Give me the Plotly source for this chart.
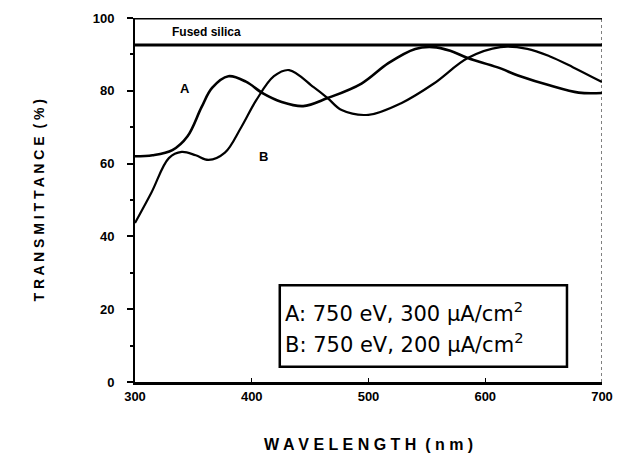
import plotly.graph_objects as go

# Data
a_wl = [300, 315, 332, 345, 357, 366, 380, 395, 410, 425, 444, 465, 494, 517, 540, 555, 570, 585, 610, 630, 655, 680, 700]
a_val = [62, 62.3, 63.7, 67.5, 75.5, 80.8, 84, 82.5, 79.2, 77, 75.8, 78, 82, 87.6, 91.5, 92, 91, 89, 86.5, 84, 81.5, 79.5, 79.4]

b_wl = [300, 314, 329, 340, 352, 363, 377, 391, 404, 419, 432, 453, 465, 477, 500, 528, 556, 585, 613, 636, 655, 675, 700]
b_val = [43.7, 52, 61.5, 63.2, 62.3, 61, 63, 70, 77.5, 84, 85.7, 81, 78, 74.7, 73.4, 76.6, 82, 89, 92, 91.5, 89.5, 86.5, 82.4]

silica_wl = [300, 700]
silica_val = [92.6, 92.6]

x_ticks = [300, 400, 500, 600, 700]
y_ticks = [0, 20, 40, 60, 80, 100]

FONT = "Liberation Sans"
LFONT = "DejaVu Sans"

fig = go.Figure()
fig.add_trace(go.Scatter(x=a_wl, y=a_val, mode="lines", line=dict(color="black", width=2.6, shape="spline", smoothing=1.0), showlegend=False))
fig.add_trace(go.Scatter(x=b_wl, y=b_val, mode="lines", line=dict(color="black", width=2.2, shape="spline", smoothing=1.0), showlegend=False))
fig.add_trace(go.Scatter(x=silica_wl, y=silica_val, mode="lines", line=dict(color="black", width=3), showlegend=False))

# top frame line at 100
fig.add_shape(type="line", x0=300, x1=700, y0=100, y1=100, xref="x", yref="y", line=dict(color="black", width=3))
# right frame line (thin)
fig.add_shape(type="line", x0=700, x1=700, y0=0, y1=100, xref="x", yref="y", line=dict(color="black", width=1, dash="dot"))
# legend box
fig.add_shape(type="rect", x0=424, x1=670, y0=4.2, y1=26.6, xref="x", yref="y", line=dict(color="black", width=2.5), fillcolor="white")

fig.add_annotation(x=427, y=19.3, xref="x", yref="y", text="A: 750 eV, 300 μA/cm<sup>2</sup>", showarrow=False, xanchor="left", yanchor="middle", font=dict(family=LFONT, size=21, color="black"))
fig.add_annotation(x=427, y=10.8, xref="x", yref="y", text="B: 750 eV, 200 μA/cm<sup>2</sup>", showarrow=False, xanchor="left", yanchor="middle", font=dict(family=LFONT, size=21, color="black"))

fig.add_annotation(x=330, y=96.2, xref="x", yref="y", text="<b>Fused silica</b>", showarrow=False, xanchor="left", yanchor="middle", font=dict(family=FONT, size=12, color="black"))
fig.add_annotation(x=343, y=80.5, xref="x", yref="y", text="<b>A</b>", showarrow=False, font=dict(family=FONT, size=13, color="black"))
fig.add_annotation(x=410, y=62, xref="x", yref="y", text="<b>B</b>", showarrow=False, font=dict(family=FONT, size=13, color="black"))

# axis titles (paper coords relative to plot area)
fig.add_annotation(x=-0.226, y=0.5, xref="paper", yref="paper", text="<b>T R A N S M I T T A N C E  ( % )</b>", textangle=-90, showarrow=False, font=dict(family=FONT, size=14, color="black"))
fig.add_annotation(x=0.499, y=-0.2, xref="paper", yref="paper", text="<b>W A V E L E N G T H  ( n m )</b>", showarrow=False, font=dict(family=FONT, size=16, color="black"))

fig.update_layout(
    width=639, height=459,
    margin=dict(l=135, r=37, t=18, b=77),
    paper_bgcolor="white", plot_bgcolor="white",
    showlegend=False,
    xaxis=dict(range=[300, 700], tickvals=x_ticks, showgrid=False, zeroline=False,
               showline=True, linecolor="black", linewidth=3, ticks="inside", ticklen=4,
               tickcolor="black", tickfont=dict(family=FONT, size=13, color="black", weight="bold")),
    yaxis=dict(range=[0, 100], tickvals=y_ticks, showgrid=False, zeroline=False,
               showline=True, linecolor="black", linewidth=2, ticks="outside", ticklen=6,
               tickcolor="black", tickwidth=2, ticklabelstandoff=10,
               tickfont=dict(family=FONT, size=13, color="black", weight="bold"),
               minor=dict(tickvals=[10, 30, 50, 70, 90], ticks="outside", ticklen=3, tickcolor="black")),
)

fig.write_html("out.html")
